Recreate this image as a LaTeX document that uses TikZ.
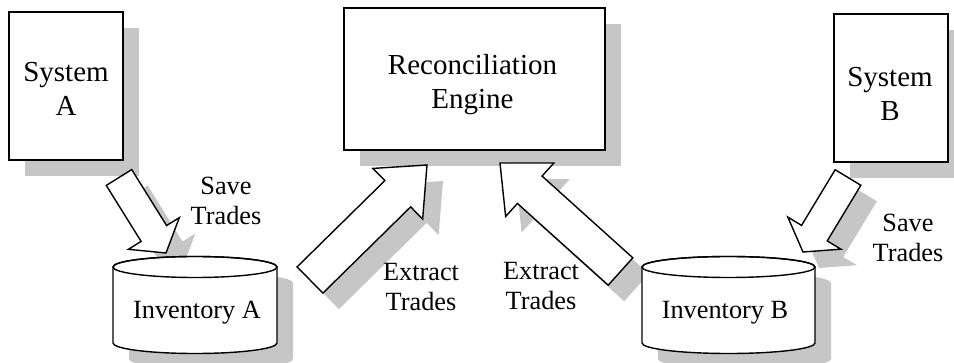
\documentclass[tikz,border=0pt]{standalone}
\usepackage{fontspec}
\setmainfont{Liberation Serif}
\usetikzlibrary{calc}
\definecolor{shadowgray}{RGB}{198,198,198}

\tikzset{
  shadowed/.style={preaction={fill=shadowgray, draw=none,
      transform canvas={shift={(16pt,-16pt)}}}},
  sysbox/.style={draw, line width=2pt, fill=white, shadowed, inner sep=0pt},
  boxtext/.style={font=\fontsize{29}{34}\selectfont, align=center, inner sep=0pt},
  lbl/.style={font=\fontsize{26.3}{30}\selectfont, align=center, inner sep=0pt},
  blockbody/.style={draw, line width=1.4pt, fill=white, line join=miter, shadowed},
  tankbody/.style={draw, line width=1.4pt, fill=white, shadowed},
  tankrim/.style={draw, line width=1.4pt},
}

% Block arrow from (#1-tail) to (#1-tip):
% #2 half shaft width, #3 half head width, #4 head length
\newcommand\blockarrow[4]{%
  \coordinate (#1-neck) at ($(#1-tip)!#4!(#1-tail)$);
  \path[blockbody]
    ($(#1-tail)!#2!90:(#1-tip)$)
    -- ($(#1-neck)!#2!-90:(#1-tail)$)
    -- ($(#1-neck)!#3!-90:(#1-tail)$)
    -- (#1-tip)
    -- ($(#1-neck)!#3!90:(#1-tail)$)
    -- ($(#1-neck)!#2!90:(#1-tail)$)
    -- ($(#1-tail)!#2!-90:(#1-tip)$)
    -- cycle;
}

\begin{document}
\begin{tikzpicture}[x=1pt, y=1pt]
\useasboundingbox (0,0) rectangle (954,-363);

% systems and the engine
\node[sysbox, minimum width=114pt, minimum height=148pt] (sysA) at (66,-86) {};
\node[sysbox, minimum width=114pt, minimum height=148pt] (sysB) at (891,-88) {};
\node[sysbox, minimum width=261pt, minimum height=142pt] (engine) at (474.5,-79) {};
\node[boxtext] (sysA-text) at (66,-89) {System\\A};
\node[boxtext] (sysB-text) at (890,-94) {System\\B};
\node[boxtext] (engine-text) at (472.5,-84.3) {Reconciliation\\Engine};

% block arrows
\coordinate (saveA-tail) at (119,-177.5);
\coordinate (saveA-tip) at (166,-253);
\blockarrow{saveA}{15pt}{30pt}{23pt}

\coordinate (extractA-tail) at (310,-280);
\coordinate (extractA-tip) at (427,-165);
\blockarrow{extractA}{18.4pt}{35.5pt}{41pt}

\coordinate (extractB-tail) at (620.5,-271.5);
\coordinate (extractB-tip) at (500,-163);
\blockarrow{extractB}{18.4pt}{36pt}{40pt}

\coordinate (saveB-tail) at (848,-177.5);
\coordinate (saveB-tip) at (803,-252);
\blockarrow{saveB}{15pt}{31pt}{22pt}

% inventories
\path[tankbody] (113,-267) -- (113,-343)
  arc[start angle=180, end angle=360, x radius=82, y radius=10.5]
  -- (277,-267)
  arc[start angle=0, end angle=180, x radius=82, y radius=10.5] -- cycle;
\path[tankrim] (195,-267) ellipse[x radius=82, y radius=10.5];
\node[lbl] (invA) at (197,-313) {Inventory A};

\path[tankbody] (642,-267) -- (642,-343)
  arc[start angle=180, end angle=360, x radius=86.5, y radius=10.5]
  -- (815,-267)
  arc[start angle=0, end angle=180, x radius=86.5, y radius=10.5] -- cycle;
\path[tankrim] (728.5,-267) ellipse[x radius=86.5, y radius=10.5];
\node[lbl] (invB) at (725,-313) {Inventory B};

% arrow labels
\node[lbl] (saveA-label) at (226,-201) {Save\\Trades};
\node[lbl] (extractA-label) at (421,-287) {Extract\\Trades};
\node[lbl] (extractB-label) at (541,-286) {Extract\\Trades};
\node[lbl] (saveB-label) at (908,-238) {Save\\Trades};
\end{tikzpicture}
\end{document}
